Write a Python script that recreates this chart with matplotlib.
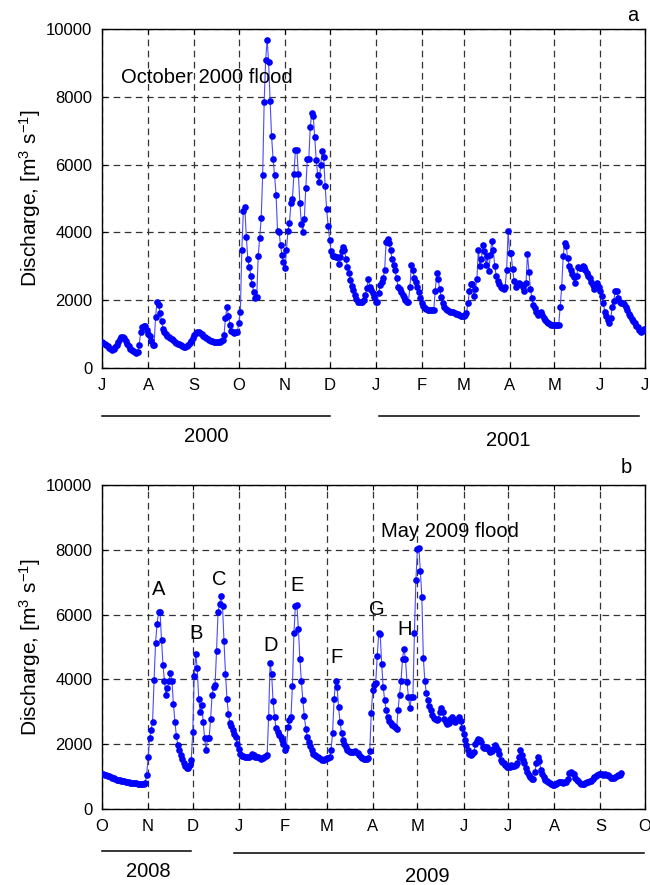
import matplotlib
matplotlib.use('Agg')
import matplotlib.pyplot as plt
import matplotlib.transforms as mtransforms
import pandas as pd

plt.rcParams['font.family'] = ['Liberation Sans', 'DejaVu Sans']
plt.rcParams['mathtext.fontset'] = 'custom'
plt.rcParams['mathtext.rm'] = 'Liberation Sans'
plt.rcParams['mathtext.it'] = 'Liberation Sans:italic'
plt.rcParams['lines.scale_dashes'] = False

# daily discharge (m3/s), July 2000 - June 2001, one row per month
q_2000 = [
    760, 750, 720, 690, 650, 600, 560, 540, 560, 620, 680, 760, 850, 900, 920, 880,
    800, 720, 640, 570, 520, 490, 460, 450, 480, 680, 1070, 1200, 1240, 1240, 1130,
    1000, 930, 790, 690, 680, 1500, 1960, 1860, 1630, 1380, 1160, 1050, 990, 940, 910,
    890, 860, 820, 780, 750, 720, 700, 670, 650, 630, 630, 650, 690, 740, 800, 880,
    960, 1040, 1070, 1050, 1020, 990, 950, 920, 890, 860, 830, 810, 790, 780, 780,
    780, 780, 780, 790, 820, 960, 1480, 1810, 1540, 1280, 1100, 1060, 1040, 1050, 1070,
    1340, 1660, 3480, 4620, 4740, 3870, 3230, 2980, 2720, 2490, 2230, 2070, 2100, 3310, 3840,
    4420, 5680, 7840, 9080, 9680, 9040, 7870, 6830, 6160, 5690, 5110, 4040, 4020, 3630, 3330, 3120,
    2940, 3480, 4040, 4270, 4860, 4980, 5720, 6430, 6430, 5710, 4880, 4250, 4020, 4410, 5320,
    6160, 6160, 7120, 7510, 7440, 6800, 6150, 5690, 5490, 5990, 6410, 6210, 5370, 4690, 4200,
    3780, 3460, 3310, 3290, 3270, 3280, 3060, 3270, 3440, 3570, 3490, 3210, 2990, 2800, 2600, 2430,
    2290, 2160, 2030, 1960, 1950, 1940, 1950, 2010, 2150, 2350, 2620, 2400, 2300, 2200, 2100,
    1960, 1960, 2210, 2450, 2550, 2650, 2900, 3730, 3800, 3680, 3470, 3210, 3040, 2880, 2650, 2400,
    2320, 2230, 2160, 2080, 2010, 1960, 1960, 2400, 3040, 2880, 2650, 2550, 2400, 2240, 2060,
    1930, 1830, 1760, 1730, 1710, 1710, 1700, 1710, 1720, 2260, 2800, 2620, 2320, 2090,
    1910, 1790, 1740, 1700, 1680, 1660, 1650, 1640, 1620, 1600, 1580, 1550, 1540, 1520,
    1520, 1560, 1620, 1910, 2260, 2470, 2470, 2130, 2320, 2620, 3490, 3010, 3210, 3630, 3440, 3040,
    3290, 2850, 3320, 3760, 3490, 3010, 2720, 2560, 2470, 2400, 2360, 2320, 2400, 2900, 4030,
    3390, 3390, 2920, 2580, 2400, 2450, 2500, 2480, 2450, 2400, 2260, 2500, 3370, 2830, 2320,
    2060, 1860, 1760, 1660, 1560, 1600, 1640, 1560, 1480, 1420, 1370, 1320, 1290, 1280, 1270,
    1270, 1270, 1270, 1280, 1810, 2400, 3290, 3700, 3610, 3240, 3010, 2880, 2780, 2680, 2500, 2700,
    2970, 2950, 2950, 3000, 2990, 2880, 2800, 2720, 2650, 2550, 2450, 2320, 2400, 2500, 2400,
    2260, 2110, 1910, 1660, 1520, 1420, 1320, 1470, 1810, 1990, 2260, 2260, 2060, 1960, 1910,
    1930, 1880, 1810, 1700, 1600, 1520, 1450, 1400, 1320, 1250, 1200, 1120, 1070, 1100, 1150,
]

# daily discharge (m3/s), October 2008 - mid September 2009, one row per month
q_2008 = [
    1080, 1070, 1060, 1050, 1030, 1010, 990, 970, 950, 930, 910, 900, 880, 870, 860, 850,
    840, 830, 820, 810, 800, 800, 790, 790, 780, 780, 770, 770, 770, 790, 1050,
    1590, 2180, 2430, 2690, 3970, 5120, 5710, 6070, 6090, 5230, 4450, 3950, 3530, 3750, 3950,
    4200, 3950, 3250, 2690, 2260, 1970, 1820, 1660, 1530, 1410, 1320, 1280, 1280, 1350, 1510,
    2380, 4120, 4770, 4350, 3410, 3000, 3200, 2690, 2180, 1820, 2180, 2180, 2790, 3510, 3770, 3820,
    4890, 6070, 6330, 6560, 6280, 5180, 4180, 3410, 2920, 2660, 2550, 2430, 2330, 2210, 2000,
    1840, 1710, 1650, 1630, 1610, 1600, 1590, 1610, 1630, 1690, 1660, 1620, 1590, 1590, 1560, 1530,
    1570, 1590, 1630, 1660, 2840, 4500, 4180, 3330, 2840, 2500, 2380, 2280, 2230, 2120, 2000,
    1820, 1900, 2530, 2740, 2840, 3790, 5430, 6280, 6300, 5560, 4640, 3950, 3360, 2860,
    2480, 2230, 2070, 1940, 1820, 1710, 1660, 1630, 1590, 1560, 1530, 1510, 1500, 1540,
    1560, 1560, 1600, 1820, 2360, 3380, 3950, 3780, 3150, 2690, 2350, 2140, 2000, 1900, 1820, 1780,
    1760, 1760, 1760, 1780, 1760, 1720, 1660, 1600, 1560, 1540, 1530, 1530, 1560, 1790, 2960,
    3680, 3820, 3900, 4710, 5430, 5400, 4470, 3770, 3360, 3060, 2830, 2720, 2660, 2590, 2560,
    2530, 2460, 3060, 3530, 3960, 4630, 4950, 4620, 3920, 3460, 3130, 3460, 3450, 5430, 7060,
    8020, 8050, 7340, 6540, 4670, 3950, 3580, 3360, 3170, 3050, 2890, 2820, 2790, 2760, 2790, 3000,
    3130, 3000, 2790, 2690, 2620, 2640, 2790, 2840, 2790, 2690, 2740, 2790, 2840, 2720, 2510,
    2330, 2140, 1970, 1820, 1710, 1660, 1700, 1760, 2020, 2100, 2170, 2120, 2070, 1920, 1870,
    1870, 1920, 1820, 1760, 1800, 1840, 1970, 1920, 1820, 1700, 1520, 1440, 1410, 1350, 1300,
    1300, 1300, 1350, 1320, 1320, 1350, 1410, 1590, 1820, 1660, 1510, 1410, 1280, 1150, 1050, 990,
    940, 940, 1150, 1410, 1590, 1490, 1200, 1080, 1000, 910, 870, 840, 790, 770, 750,
    740, 770, 790, 820, 840, 840, 810, 830, 840, 940, 1100, 1150, 1100, 1080, 970, 890,
    850, 810, 770, 770, 770, 790, 840, 840, 850, 870, 940, 980, 1020, 1050, 1080,
    1080, 1080, 1050, 1080, 1060, 1050, 1020, 970, 970, 970, 1000, 1020, 1040, 1050, 1100,
]

months_a = ['J', 'A', 'S', 'O', 'N', 'D', 'J', 'F', 'M', 'A', 'M', 'J', 'J']
months_b = ['O', 'N', 'D', 'J', 'F', 'M', 'A', 'M', 'J', 'J', 'A', 'S', 'O']
event_names = ['A', 'B', 'C', 'D', 'E', 'F', 'G', 'H']

start_a = pd.Timestamp('2000-07-01')
start_b = pd.Timestamp('2008-10-01')
dates_a = pd.date_range(start_a, periods=len(q_2000), freq='D')
dates_b = pd.date_range(start_b, periods=len(q_2008), freq='D')

# label placement (day offset from start, discharge level)
event_pos = [(37.8, 6760), (63.2, 5415), (78.8, 7070), (113.6, 5050),
             (131.3, 6890), (157.7, 4690), (184.6, 6145), (203.6, 5530)]

fig = plt.figure(figsize=(6.5, 8.85), dpi=100)
ax1 = fig.add_axes([102 / 650, 1 - 368 / 885, 543 / 650, 339 / 885])
ax2 = fig.add_axes([102 / 650, 1 - 809 / 885, 543 / 650, 324 / 885])


def style_axes(ax, start, months):
    ticks = pd.date_range(start, periods=len(months), freq='MS')
    ax.set_xlim(ticks[0], ticks[-1])
    ax.set_ylim(0, 10000)
    ax.set_xticks(ticks)
    ax.set_xticklabels(months)
    ax.set_yticks(range(0, 10001, 2000))
    ax.grid(True, color='0.2', lw=0.9, ls=(0, (4.8, 3.2)))
    ax.set_axisbelow(True)
    ax.tick_params(direction='in', length=3.5, width=0.8, top=True, right=True,
                   labelsize=12, pad=7)
    for sp in ax.spines.values():
        sp.set_linewidth(1.0)
    ax.set_ylabel('Discharge, [m$^{3}$ s$^{-1}$]', fontsize=15)
    ax.yaxis.set_label_coords(-0.108, 0.5)


for ax, dates, q, start, months in [(ax1, dates_a, q_2000, start_a, months_a),
                                     (ax2, dates_b, q_2008, start_b, months_b)]:
    ax.plot(dates, q, '-', color='#4a4aff', lw=0.8, zorder=3)
    ax.plot(dates, q, 'o', color='blue', ms=4.8, mew=0, zorder=4)
    style_axes(ax, start, months)

ax1.text(start_a + pd.Timedelta(days=12.6), 8575, 'October 2000 flood',
         fontsize=14.5, ha='left', va='center')
ax2.text(start_b + pd.Timedelta(days=187.5), 8555, 'May 2009 flood',
         fontsize=14.5, ha='left', va='center')
for name, (d, v) in zip(event_names, event_pos):
    ax2.text(start_b + pd.Timedelta(days=d), v, name, fontsize=14.5,
             ha='center', va='center')

ax1.text(0.978, 1.04, 'a', transform=ax1.transAxes, fontsize=14.5, ha='center', va='center')
ax2.text(0.965, 1.053, 'b', transform=ax2.transAxes, fontsize=14.5, ha='center', va='center')

# year bars under the month axis
def year_bar(ax, t0, t1, yb, label, xl, yl):
    tr = mtransforms.blended_transform_factory(ax.transData, ax.transAxes)
    ax.plot([pd.Timestamp(t0), pd.Timestamp(t1)], [yb, yb], color='k', lw=1.1,
            transform=tr, clip_on=False)
    ax.text(xl, yl, label, transform=ax.transAxes, fontsize=14.5,
            ha='center', va='center')


year_bar(ax1, '2000-07-01', '2000-12-01', -0.1416, '2000', 0.1915, -0.2006)
year_bar(ax1, '2001-01-03', '2001-06-27', -0.1416, '2001', 0.748, -0.2124)
year_bar(ax2, '2008-10-01', '2008-11-30', -0.1296, '2008', 0.0856, -0.194)
year_bar(ax2, '2008-12-29', '2009-09-30', -0.1358, '2009', 0.5985, -0.207)

fig.savefig('out.png', dpi=100)
